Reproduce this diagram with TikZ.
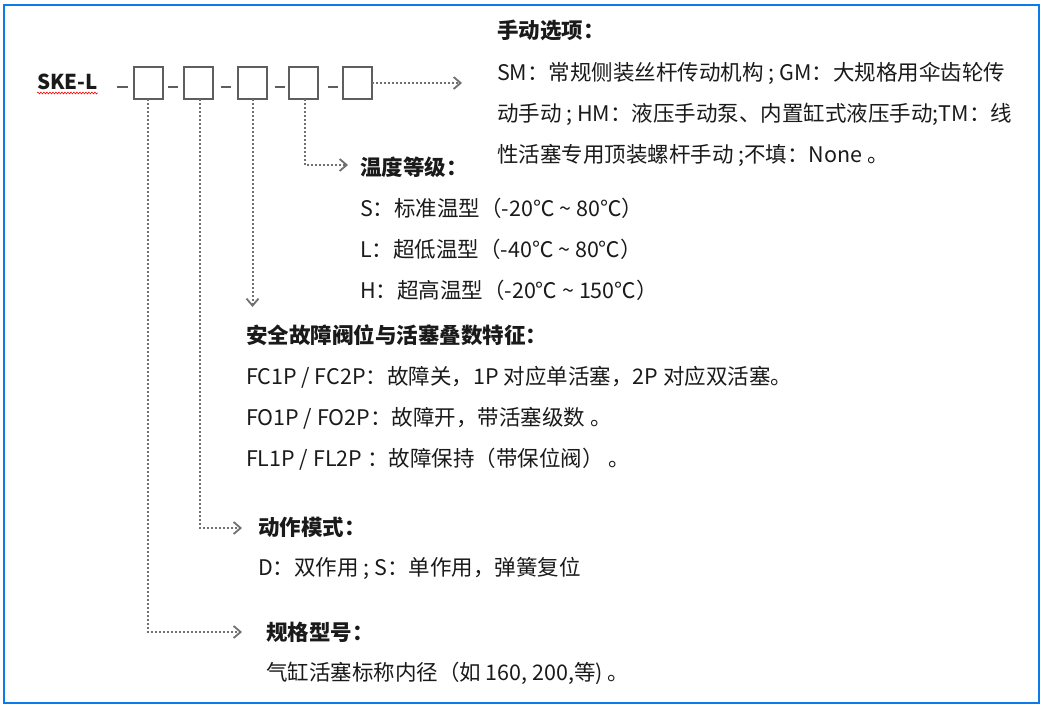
\documentclass[tikz,border=0pt]{standalone}
\usepackage{fontspec}
\setmainfont{Noto Sans CJK SC}
\usetikzlibrary{positioning,arrows.meta,decorations.pathmorphing}
\definecolor{frameblue}{HTML}{0B7BEA}
\definecolor{boxgray}{HTML}{5E5E5E}
\definecolor{dotgray}{HTML}{707070}
\definecolor{inkc}{HTML}{1A1A1A}

\begin{document}
\begin{tikzpicture}[x=1pt, y=-1pt, >={Straight Barb[length=7pt,width=12pt,line width=1.8pt]},
  every node/.style={inner sep=0pt, outer sep=0pt},
  code/.style={draw=boxgray, line width=1.5pt, minimum width=29pt, minimum height=32pt},
  sep/.style={boxgray, line width=1.4pt},
  lead/.style={->, dotgray, line width=2pt, dotted},
  hdr/.style={anchor=base west, text=inkc, font=\fontsize{21.5}{25}\selectfont\bfseries},
  txt/.style={anchor=base west, text=inkc, font=\fontsize{21.5}{25}\selectfont}]
\useasboundingbox (0,0) rectangle (1043,709);
\draw[frameblue, line width=2.2pt] (4,5) rectangle (1039,703);

% model code
\node[hdr, font=\fontsize{20.5}{24}\selectfont\bfseries] (ske) at (37,89) {SKE-L};
\draw[red, line width=0.6pt, decorate, decoration={snake, amplitude=0.9pt, segment length=3pt}]
  ([yshift=-4pt]ske.base west) -- ([yshift=-4pt]ske.base east);
\node[code] (b1) at (148.5,83) {};
\node[code, right=21pt of b1] (b2) {};
\node[code, right=25pt of b2] (b3) {};
\node[code, right=22pt of b3] (b4) {};
\node[code, right=25pt of b4] (b5) {};
\draw[sep] ([xshift=-6pt,yshift=-4pt]b1.west) -- ++(-11pt,0);
\draw[sep] ([xshift=-6pt,yshift=-4pt]b2.west) -- ++(-10pt,0);
\draw[sep] ([xshift=-7pt,yshift=-4pt]b3.west) -- ++(-10pt,0);
\draw[sep] ([xshift=-4pt,yshift=-4pt]b4.west) -- ++(-10pt,0);
\draw[sep] ([xshift=-5pt,yshift=-4pt]b5.west) -- ++(-10pt,0);

% arrow ends
\coordinate (manualtip) at (462,83);
\coordinate (temptip) at (348,165);
\coordinate (failtip) at (252.5,307);
\coordinate (acttip) at (242,528);
\coordinate (spectip) at (242,632);

\draw[lead] (b5.east) -- (manualtip);
\draw[lead] ([xshift=1.5pt]b4.south) |- (temptip);
\draw[lead] (b3.south) -- (failtip);
\draw[lead] ([xshift=1.5pt]b2.south) |- (acttip);
\draw[lead] ([xshift=-0.5pt]b1.south) |- (spectip);

% manual option
\node[hdr] (manual) at (497,38) {手动选项：};
\node[txt] (manual1) at (497,80) {SM：常规侧装丝杆传动机构 ; GM：大规格用伞齿轮传};
\node[txt] (manual2) at (497,121) {动手动 ; HM：液压手动泵、内置缸式液压手动;TM：线};
\node[txt] (manual3) at (497,162) {性活塞专用顶装螺杆手动 ;不填：None 。};

% temperature
\node[hdr] (temp) at (360,175) {温度等级：};
\node[txt] (temp1) at (360,216) {S：标准温型（-20℃ \textasciitilde{} 80℃）};
\node[txt] (temp2) at (360,257) {L：超低温型（-40℃ \textasciitilde{} 80℃）};
\node[txt] (temp3) at (360,298) {H：超高温型（-20℃ \textasciitilde{} 150℃）};

% fail position
\node[hdr] (fail) at (246,343) {安全故障阀位与活塞叠数特征：};
\node[txt] (fail1) at (246,384) {FC1P / FC2P：故障关，1P 对应单活塞，2P 对应双活塞。};
\node[txt] (fail2) at (246,425) {FO1P / FO2P：故障开，带活塞级数 。};
\node[txt] (fail3) at (246,466) {FL1P / FL2P ：故障保持（带保位阀） 。};

% action mode
\node[hdr] (act) at (258,535) {动作模式：};
\node[txt] (act1) at (258,575) {D：双作用 ; S：单作用，弹簧复位};

% size
\node[hdr] (spec) at (266,640) {规格型号：};
\node[txt] (spec1) at (266,680) {气缸活塞标称内径（如 160, 200,等) 。};
\end{tikzpicture}
\end{document}
